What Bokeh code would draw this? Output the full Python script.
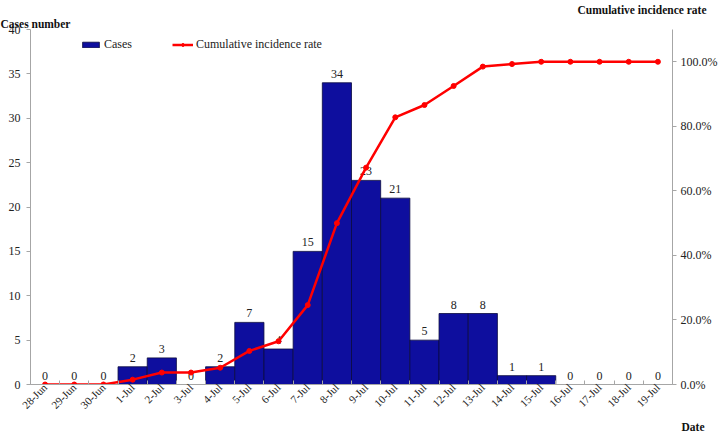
from bokeh.plotting import figure
from bokeh.models import (Range1d, LinearAxis, FixedTicker, NumeralTickFormatter,
                          Legend, LegendItem, ColumnDataSource, Title)
from bokeh.core.properties import value
from bokeh.embed import file_html
from bokeh.resources import INLINE
import math

dates = ["28-Jun", "29-Jun", "30-Jun", "1-Jul", "2-Jul", "3-Jul", "4-Jul", "5-Jul",
         "6-Jul", "7-Jul", "8-Jul", "9-Jul", "10-Jul", "11-Jul", "12-Jul", "13-Jul",
         "14-Jul", "15-Jul", "16-Jul", "17-Jul", "18-Jul", "19-Jul"]
cases = [0, 0, 0, 2, 3, 0, 2, 7, 4, 15, 34, 23, 21, 5, 8, 8, 1, 1, 0, 0, 0, 0]
cum_rate = [0.0, 0.0, 0.0, 0.015, 0.037, 0.037, 0.052, 0.104, 0.134, 0.246, 0.500,
            0.672, 0.828, 0.866, 0.925, 0.985, 0.993, 1.0, 1.0, 1.0, 1.0, 1.0]
left_ticks = [0, 5, 10, 15, 20, 25, 30, 35, 40]
right_ticks = [0.0, 0.2, 0.4, 0.6, 0.8, 1.0]

FONT = "Liberation Serif"
TXT = "#222222"
AX = "#A6A6A6"
xs = [i + 0.5 for i in range(len(dates))]

W, H = 720, 432
BL, BT, BR, BB = 30, 29, 44, 36
FH = H - BT - BB

p = figure(width=W, height=H, output_backend="svg", toolbar_location=None,
           x_range=Range1d(0, len(dates)), y_range=Range1d(0, 40),
           min_border_left=BL, min_border_right=BR, min_border_top=BT,
           min_border_bottom=BB)
p.outline_line_color = None
p.grid.visible = False
p.background_fill_color = "white"
p.border_fill_color = "white"

p.extra_y_ranges = {"rate": Range1d(0, 1.1)}

src = ColumnDataSource(dict(x=xs, cases=cases, rate=cum_rate,
                            lab=[str(c) for c in cases]))

bars = p.vbar(x="x", top="cases", width=1.0, source=src, fill_color="#0E0E9E",
              line_color="#0A0A40", line_width=0.8)
p.text(x="x", y="cases", text="lab", source=src, text_align="center",
       text_baseline="bottom", y_offset=-5, text_font=value(FONT),
       text_font_size="12px", text_color=TXT)

ln = p.line(x="x", y="rate", source=src, y_range_name="rate", line_color="#FF0000",
            line_width=2.5)
mk = p.scatter(x="x", y="rate", source=src, y_range_name="rate", size=5,
               fill_color="#FF0000", line_color="#FF0000")

# x axis
xa = p.xaxis[0]
xa.ticker = FixedTicker(ticks=xs, minor_ticks=list(range(len(dates) + 1)))
xa.major_label_overrides = {x: d for x, d in zip(xs, dates)}
xa.major_label_orientation = math.pi / 4
xa.major_tick_line_color = None
xa.major_tick_in = 0
xa.major_tick_out = 0
xa.minor_tick_in = 4
xa.minor_tick_out = 0
xa.minor_tick_line_color = AX
xa.axis_line_color = AX
xa.major_label_text_font = FONT
xa.major_label_text_font_size = "11px"
xa.major_label_text_color = TXT
xa.major_label_standoff = 1

ya = p.yaxis[0]
ya.ticker = FixedTicker(ticks=left_ticks, minor_ticks=[])
ya.axis_line_color = AX
ya.major_tick_line_color = AX
ya.major_tick_out = 4
ya.major_tick_in = 0
ya.minor_tick_line_color = None
ya.major_label_text_font = FONT
ya.major_label_text_font_size = "12px"
ya.major_label_text_color = TXT
ya.major_label_standoff = 6

ra = LinearAxis(y_range_name="rate", ticker=FixedTicker(ticks=right_ticks, minor_ticks=[]),
                formatter=NumeralTickFormatter(format="0.0%"))
ra.axis_line_color = AX
ra.major_tick_line_color = AX
ra.major_tick_out = 4
ra.major_tick_in = 0
ra.minor_tick_line_color = None
ra.major_label_text_font = FONT
ra.major_label_text_font_size = "12px"
ra.major_label_text_color = TXT
ra.major_label_standoff = 4
p.add_layout(ra, "right")

legend = Legend(items=[LegendItem(label="Cases", renderers=[bars]),
                       LegendItem(label="Cumulative incidence rate", renderers=[ln, mk])],
                orientation="horizontal", location=(50, FH - 35), border_line_color=None,
                background_fill_alpha=0, glyph_width=21, glyph_height=7,
                label_text_font=FONT, label_text_font_size="12px",
                label_text_color=TXT, spacing=40, padding=0, margin=0,
                label_standoff=3, label_height=14)
p.add_layout(legend, "center")


def make_title(text, align, offset):
    t = Title(text=text, align=align, offset=offset, text_font=FONT,
              text_font_size="11.5px", text_font_style="bold", text_color="#111111")
    try:
        t.standoff = 0
    except Exception:
        pass
    return t


p.add_layout(make_title("Cases number", "left", -30), "above")
p.add_layout(make_title("Cumulative incidence rate", "right", -34), "above")
p.add_layout(make_title("Date", "right", -32), "below")

open("out.html", "w").write(file_html(p, INLINE))
